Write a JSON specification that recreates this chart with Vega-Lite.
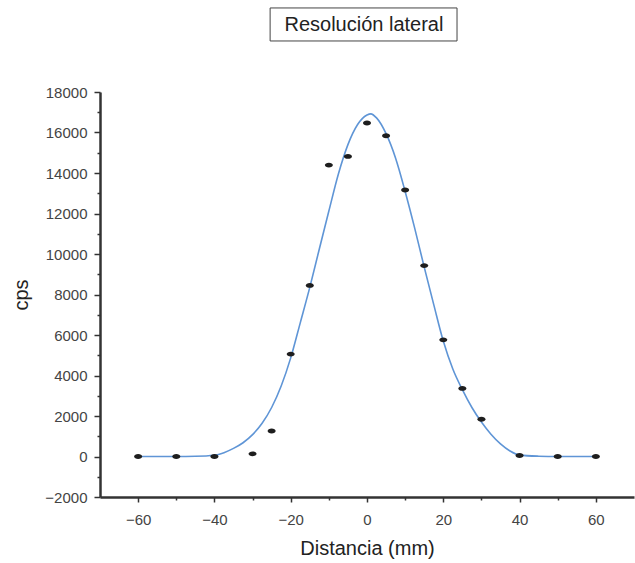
{
  "$schema": "https://vega.github.io/schema/vega-lite/v6.json",
  "width": 534,
  "height": 405,
  "autosize": "none",
  "padding": {"left": 100, "top": 92, "right": 1, "bottom": 66},
  "background": "white",
  "config": {"view": {"stroke": null}, "font": "Liberation Sans"},
  "datasets": {
    "points": [
      {"distancia": -60, "cps": 0},
      {"distancia": -50, "cps": 0},
      {"distancia": -40, "cps": 0},
      {"distancia": -30, "cps": 130},
      {"distancia": -25, "cps": 1260},
      {"distancia": -20, "cps": 5060},
      {"distancia": -15, "cps": 8450},
      {"distancia": -10, "cps": 14390},
      {"distancia": -5, "cps": 14820},
      {"distancia": 0, "cps": 16470},
      {"distancia": 5, "cps": 15840},
      {"distancia": 10, "cps": 13160},
      {"distancia": 15, "cps": 9430},
      {"distancia": 20, "cps": 5760},
      {"distancia": 25, "cps": 3360},
      {"distancia": 30, "cps": 1840},
      {"distancia": 40, "cps": 50},
      {"distancia": 50, "cps": 0},
      {"distancia": 60, "cps": 0}
    ],
    "curve": [
      {"distancia": -60, "cps": 0},
      {"distancia": -50, "cps": 0},
      {"distancia": -45, "cps": 10},
      {"distancia": -40, "cps": 60},
      {"distancia": -37.5, "cps": 190},
      {"distancia": -35, "cps": 400},
      {"distancia": -32.5, "cps": 680},
      {"distancia": -30, "cps": 1080},
      {"distancia": -27.5, "cps": 1640},
      {"distancia": -25, "cps": 2420},
      {"distancia": -22.5, "cps": 3480},
      {"distancia": -20, "cps": 4870},
      {"distancia": -17.5, "cps": 6600},
      {"distancia": -15, "cps": 8350},
      {"distancia": -12.5, "cps": 10250},
      {"distancia": -10, "cps": 12120},
      {"distancia": -7.5, "cps": 13950},
      {"distancia": -5, "cps": 15400},
      {"distancia": -2.5, "cps": 16380},
      {"distancia": 0, "cps": 16860},
      {"distancia": 1, "cps": 16920},
      {"distancia": 2.5, "cps": 16720},
      {"distancia": 5, "cps": 15940},
      {"distancia": 7.5, "cps": 14730},
      {"distancia": 10, "cps": 13090},
      {"distancia": 12.5, "cps": 11280},
      {"distancia": 15, "cps": 9350},
      {"distancia": 17.5, "cps": 7500},
      {"distancia": 20, "cps": 5700},
      {"distancia": 22.5, "cps": 4320},
      {"distancia": 25, "cps": 3300},
      {"distancia": 27.5, "cps": 2420},
      {"distancia": 30, "cps": 1700},
      {"distancia": 32.5, "cps": 1100},
      {"distancia": 35, "cps": 620},
      {"distancia": 37.5, "cps": 270},
      {"distancia": 40, "cps": 70},
      {"distancia": 45, "cps": 15},
      {"distancia": 50, "cps": 0},
      {"distancia": 60, "cps": 0}
    ],
    "title": [{"label": "Resolución lateral"}]
  },
  "resolve": {"axis": {"x": "independent", "y": "independent"}},
  "layer": [
    {
      "data": {"name": "curve"},
      "mark": {"type": "line", "interpolate": "monotone", "color": "#5f95d6", "strokeWidth": 1.6},
      "encoding": {
        "x": {
          "field": "distancia", "type": "quantitative",
          "scale": {"domain": [-70, 70], "nice": false, "zero": false},
          "axis": {
            "orient": "bottom", "values": [-60, -40, -20, 0, 20, 40, 60], "grid": false,
            "title": "Distancia (mm)", "titleFontSize": 20, "titleFontWeight": "normal", "titleColor": "#222", "titlePadding": 11,
            "labelFontSize": 15, "labelColor": "#444", "labelPadding": 10,
            "tickColor": "#333", "tickWidth": 1.5, "tickSize": 5,
            "domainColor": "#333", "domainWidth": 2.5
          }
        },
        "y": {
          "field": "cps", "type": "quantitative",
          "scale": {"domain": [-2000, 18000], "nice": false, "zero": false},
          "axis": {
            "orient": "left", "values": [-2000, 0, 2000, 4000, 6000, 8000, 10000, 12000, 14000, 16000, 18000], "grid": false,
            "format": "d",
            "title": "cps", "titleFontSize": 20, "titleFontWeight": "normal", "titleColor": "#222", "titlePadding": 13,
            "labelFontSize": 15, "labelColor": "#444", "labelPadding": 7,
            "tickColor": "#333", "tickWidth": 1.5, "tickSize": 6,
            "domainColor": "#333", "domainWidth": 2.5
          }
        }
      }
    },
    {
      "data": {"name": "points"},
      "mark": {"type": "point", "filled": true, "shape": "M-1,0A1,0.6,0,1,0,1,0A1,0.6,0,1,0,-1,0Z", "size": 64, "color": "#1e1e1e", "opacity": 1},
      "encoding": {
        "x": {
          "field": "distancia", "type": "quantitative",
          "axis": {
            "orient": "bottom", "values": [-50, -30, -10, 10, 30, 50], "grid": false, "labels": false, "domain": false,
            "title": null, "tickColor": "#333", "tickWidth": 1.5, "tickSize": 3
          }
        },
        "y": {
          "field": "cps", "type": "quantitative",
          "axis": {
            "orient": "left", "values": [-1000, 1000, 3000, 5000, 7000, 9000, 11000, 13000, 15000, 17000], "grid": false, "labels": false, "domain": false,
            "title": null, "tickColor": "#333", "tickWidth": 1.5, "tickSize": 3
          }
        }
      }
    },
    {
      "data": {"name": "title"},
      "mark": {"type": "rect", "fill": "white", "stroke": "#444", "strokeWidth": 1},
      "encoding": {
        "x": {"datum": -25.4, "type": "quantitative", "axis": null},
        "x2": {"datum": 23.6},
        "y": {"datum": 22150, "type": "quantitative", "axis": null},
        "y2": {"datum": 20520}
      }
    },
    {
      "data": {"name": "title"},
      "mark": {"type": "text", "fontSize": 20, "color": "#222", "baseline": "middle", "align": "center"},
      "encoding": {
        "text": {"field": "label"},
        "x": {"datum": -0.8, "type": "quantitative", "axis": null},
        "y": {"datum": 21330, "type": "quantitative", "axis": null}
      }
    }
  ]
}
